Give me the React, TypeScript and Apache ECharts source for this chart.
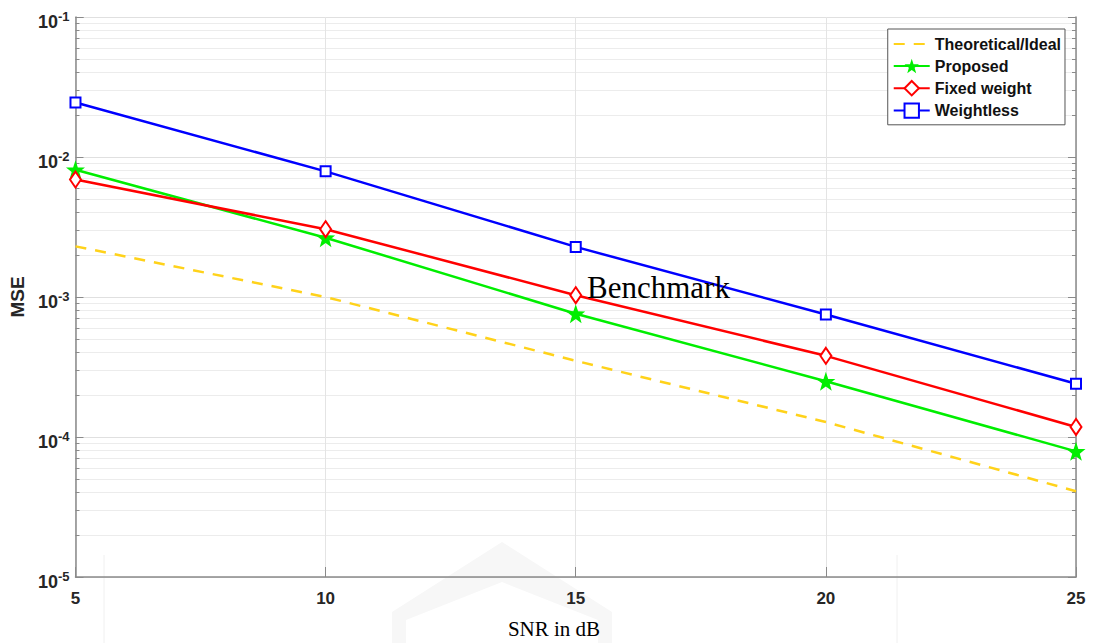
import React, { useEffect, useRef } from "react";
import * as echarts from "echarts";

// SNR sweep (dB) and the mean squared error of each estimator
const snrDb = [5, 10, 15, 20, 25];
const theoretical = [2.3e-3, 1.0e-3, 3.5e-4, 1.28e-4, 4.1e-5];
const proposed = [8.1e-3, 2.65e-3, 7.6e-4, 2.5e-4, 7.9e-5];
const fixedWeight = [6.9e-3, 3.05e-3, 1.03e-3, 3.8e-4, 1.18e-4];
const weightless = [2.45e-2, 7.9e-3, 2.28e-3, 7.5e-4, 2.4e-4];

const seriesNames = ["Theoretical/Ideal", "Proposed", "Fixed weight", "Weightless"];

const STAR =
  "path://M0,-10 L2.35,-3.24 L9.51,-3.09 L3.8,1.24 L5.88,8.09 L0,4 L-5.88,8.09 L-3.8,1.24 L-9.51,-3.09 L-2.35,-3.24 Z";

const pairs = (ys: number[]) => snrDb.map((x, i) => [x, ys[i]]);

export default function App() {
  const ref = useRef<HTMLDivElement>(null);

  useEffect(() => {
    document.body.style.margin = "0";
    const chart = echarts.init(ref.current!, undefined, { renderer: "svg" });

    const tickText = "#262626";
    const axisGray = "#8a8a8a";

    const yAxisBase = {
      type: "log" as const,
      logBase: 10,
      min: 1e-5,
      max: 1e-1,
      axisLine: { show: true, lineStyle: { color: axisGray, width: 1.5 } },
      axisTick: { show: true, inside: true, length: 8, lineStyle: { color: axisGray } },
      minorTick: { show: true, splitNumber: 9, length: 4, lineStyle: { color: axisGray } },
    };

    chart.setOption({
      animation: false,
      backgroundColor: "#ffffff",
      grid: { left: 72, right: 18, top: 17, bottom: 66, containLabel: false },
      xAxis: {
        type: "value",
        min: 5,
        max: 25,
        interval: 5,
        axisLine: { lineStyle: { color: axisGray, width: 1.5 } },
        axisTick: { inside: true, length: 10, lineStyle: { color: axisGray } },
        axisLabel: {
          margin: 13,
          fontFamily: "Liberation Sans",
          fontWeight: "bold",
          fontSize: 17,
          color: tickText,
        },
        splitLine: { show: true, lineStyle: { color: "#e4e4e4" } },
      },
      yAxis: [
        {
          ...yAxisBase,
          position: "left",
          name: "MSE",
          nameLocation: "middle",
          nameGap: 43,
          nameRotate: 90,
          nameTextStyle: {
            fontFamily: "Liberation Sans",
            fontWeight: "bold",
            fontSize: 19,
            color: tickText,
          },
          axisLabel: {
            margin: 6,
            padding: [9, 0, 0, 0],
            formatter: (v: number) => `{b|10}{s|${Math.round(Math.log10(v))}}`,
            rich: {
              b: { fontFamily: "Liberation Sans", fontWeight: "bold", fontSize: 18, color: tickText },
              s: {
                fontFamily: "Liberation Sans",
                fontWeight: "bold",
                fontSize: 13,
                color: tickText,
                padding: [0, 0, 11, 0],
              },
            },
          },
          splitLine: { show: true, lineStyle: { color: "#e0e0e0" } },
          minorSplitLine: { show: true, lineStyle: { color: "#ececec" } },
        },
        {
          ...yAxisBase,
          position: "right",
          axisLabel: { show: false },
          splitLine: { show: false },
          minorSplitLine: { show: false },
        },
      ],
      legend: {
        data: [
          { name: seriesNames[0], itemStyle: { opacity: 0 } },
          seriesNames[1],
          seriesNames[2],
          seriesNames[3],
        ],
        orient: "vertical",
        right: 29,
        top: 29,
        itemWidth: 36,
        itemHeight: 18,
        itemGap: 6,
        padding: [7, 4, 6, 5],
        backgroundColor: "#ffffff",
        borderColor: "#555",
        borderWidth: 1,
        textStyle: {
          fontFamily: "Liberation Sans",
          fontWeight: "bold",
          fontSize: 16,
          color: "#111",
        },
      },
      graphic: [
        {
          type: "polygon",
          z: -10,
          silent: true,
          shape: {
            points: [
              [392, 643], [392, 612], [502, 542], [612, 612], [612, 643],
              [598, 643], [598, 620], [502, 582], [406, 620], [406, 643],
            ],
          },
          style: { fill: "#f7f7f7" },
        },
        {
          type: "line",
          z: -10,
          silent: true,
          shape: { x1: 104, y1: 555, x2: 104, y2: 643 },
          style: { stroke: "#f0f0f0", lineWidth: 1 },
        },
        {
          type: "line",
          z: -10,
          silent: true,
          shape: { x1: 897, y1: 555, x2: 897, y2: 643 },
          style: { stroke: "#f0f0f0", lineWidth: 1 },
        },
        {
          type: "text",
          x: 587,
          y: 287,
          z: 100,
          style: {
            text: "Benchmark",
            fontFamily: "Liberation Serif",
            fontSize: 31,
            fill: "#000",
            verticalAlign: "middle",
          },
        },
        {
          type: "text",
          x: 554,
          y: 629,
          z: 100,
          style: {
            text: "SNR in dB",
            fontFamily: "Liberation Serif",
            fontSize: 21,
            fill: "#000",
            align: "center",
            verticalAlign: "middle",
          },
        },
      ],
      series: [
        {
          name: seriesNames[0],
          type: "line",
          data: pairs(theoretical),
          symbol: "circle",
          showSymbol: false,
          lineStyle: { color: "#FFD21A", width: 2.5, type: [11, 9] },
          itemStyle: { color: "#FFD21A", opacity: 0 },
          z: 2,
        },
        {
          name: seriesNames[1],
          type: "line",
          data: pairs(proposed),
          symbol: STAR,
          symbolSize: 19,
          lineStyle: { color: "#00ee00", width: 2.5 },
          itemStyle: { color: "#00ee00" },
          z: 3,
        },
        {
          name: seriesNames[2],
          type: "line",
          data: pairs(fixedWeight),
          symbol: "diamond",
          symbolSize: [11, 16],
          lineStyle: { color: "#ff0000", width: 2.5 },
          itemStyle: { color: "#ffffff", borderColor: "#ff0000", borderWidth: 2 },
          z: 4,
        },
        {
          name: seriesNames[3],
          type: "line",
          data: pairs(weightless),
          symbol: "rect",
          symbolSize: 10,
          lineStyle: { color: "#0000ff", width: 2.5 },
          itemStyle: { color: "#ffffff", borderColor: "#0000ff", borderWidth: 2 },
          z: 5,
        },
      ],
    });

    return () => chart.dispose();
  }, []);

  return <div ref={ref} style={{ width: 1094, height: 643 }} />;
}
